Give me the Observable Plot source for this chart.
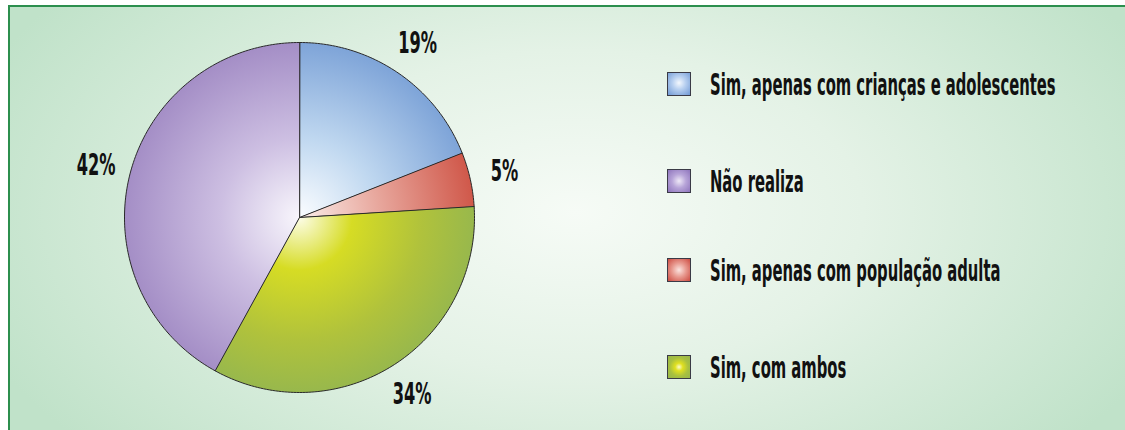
<!DOCTYPE html>
<html><head><meta charset="utf-8">
<script src="https://cdn.jsdelivr.net/npm/d3@7"></script>
<script src="https://cdn.jsdelivr.net/npm/@observablehq/plot@0.6"></script>
<style>
html,body{margin:0;padding:0;width:1125px;height:430px;overflow:hidden;background:#ffffff;}
#frame{position:absolute;left:8px;top:5px;width:1140px;height:450px;border:2px solid #2c8f4e;
  background:radial-gradient(ellipse 640px 360px at 565px 205px,#f6fbf6 0%,#e4f2e6 45%,#c0e2c9 100%);}
#chart{position:absolute;left:0;top:0;}
#legend{position:absolute;left:0;top:0;width:1125px;height:430px;pointer-events:none;}
.item{position:absolute;left:667px;height:24px;display:flex;align-items:center;}
.sw{width:22px;height:22px;border:1px solid #3a3a46;box-sizing:content-box;flex:none;}
.lab{margin-left:19px;font-family:"DejaVu Sans Condensed","Liberation Sans",sans-serif;
  font-weight:bold;font-size:31px;color:#111;white-space:nowrap;transform-origin:left center;display:inline-block;}
</style>
</head><body>
<div id="frame"></div>
<div id="chart"></div>
<div id="legend"></div>
<script>
// ---- data ----
const categories = ["Sim, apenas com crianças e adolescentes", "Sim, apenas com população adulta", "Sim, com ambos", "Não realiza"];
const values = [19, 5, 34, 42];
const legendOrder = ["Sim, apenas com crianças e adolescentes", "Não realiza", "Sim, apenas com população adulta", "Sim, com ambos"];
const labels = ["19%", "5%", "34%", "42%"];
// ---- styles ----
const gradStops = {
  "Sim, apenas com crianças e adolescentes": [["0%", "#fbfdff"], ["45%", "#c0d8f0"], ["100%", "#7ea4d8"]],
  "Sim, apenas com população adulta": [["0%", "#fbeeea"], ["45%", "#e8a89e"], ["100%", "#d0584a"]],
  "Sim, com ambos": [["0%", "#fdfde8"], ["30%", "#d6dc24"], ["70%", "#b0c23c"], ["100%", "#98b84c"]],
  "Não realiza": [["0%", "#f8f6fc"], ["45%", "#cdbfe2"], ["100%", "#a48ec6"]]
};
const legendCss = {
  "Sim, apenas com crianças e adolescentes": "radial-gradient(circle at 50% 45%, #f4f8fd 0%, #b8d0f0 40%, #6f98d4 100%)",
  "Não realiza": "radial-gradient(circle at 50% 50%, #eee8f6 0%, #b7a4d8 45%, #8e74bc 100%)",
  "Sim, apenas com população adulta": "radial-gradient(circle at 50% 50%, #fbe4e0 0%, #e89a90 45%, #cc4a40 100%)",
  "Sim, com ambos": "radial-gradient(circle at 50% 50%, #fbfbd0 0%, #e0e020 25%, #a8c040 60%, #98b64a 100%)"
};
const legendTops = [72, 169, 258, 355];
const textSqueeze = 0.53;
const labelSqueeze = 0.6;

// ---- pie geometry via d3.pie ----
const pie = d3.pie().sort(null).value(d => d.value);
const arcs = pie(categories.map((c, i) => ({key: c, value: values[i], label: labels[i]})));
const pts = [];
arcs.forEach((a, i) => {
  const n = Math.max(8, Math.ceil((a.endAngle - a.startAngle) / (Math.PI / 180)));
  pts.push({key: a.data.key, i, x: 0, y: 0});
  for (let k = 0; k <= n; k++) {
    const t = a.startAngle + (a.endAngle - a.startAngle) * k / n;
    pts.push({key: a.data.key, i, x: Math.sin(t), y: Math.cos(t)});
  }
});
const labelData = arcs.map((a, i) => {
  const m = (a.startAngle + a.endAngle) / 2;
  return {label: a.data.label, x: Math.sin(m) * 1.2, y: Math.cos(m) * 1.2};
});

const plot = Plot.plot({
  width: 1125, height: 430,
  margin: 0,
  style: {background: "transparent", overflow: "visible"},
  x: {domain: [-1, 1], range: [124, 474], axis: null},
  y: {domain: [-1, 1], range: [392, 42], axis: null},
  color: {type: "identity"},
  marks: [
    Plot.line(pts, {x: "x", y: "y", z: "key", curve: "linear-closed",
      fill: d => `url(#g${d.i})`, stroke: "#2a2a2a", strokeWidth: 1}),
    Plot.text(labelData, {x: "x", y: "y", text: "label", fontSize: 30, fontWeight: "bold",
      fontFamily: "'DejaVu Sans Condensed','Liberation Sans',sans-serif",
      fill: "#111", textAnchor: "middle", lineAnchor: "middle", className: "pct"})
  ]
});

// gradient definitions in pixel space from the scales
const sx = plot.scale("x"), sy = plot.scale("y");
const cx = sx.apply(0), cy = sy.apply(0), r = sx.apply(1) - sx.apply(0);
const NS = "http://www.w3.org/2000/svg";
const defs = document.createElementNS(NS, "defs");
arcs.forEach((a, i) => {
  const g = document.createElementNS(NS, "radialGradient");
  g.setAttribute("id", "g" + i);
  g.setAttribute("gradientUnits", "userSpaceOnUse");
  g.setAttribute("cx", cx); g.setAttribute("cy", cy); g.setAttribute("r", r);
  g.setAttribute("fx", cx); g.setAttribute("fy", cy);
  gradStops[a.data.key].forEach(([o, c]) => {
    const s = document.createElementNS(NS, "stop");
    s.setAttribute("offset", o); s.setAttribute("stop-color", c);
    g.appendChild(s);
  });
  defs.appendChild(g);
});
plot.insertBefore(defs, plot.firstChild);
document.getElementById("chart").appendChild(plot);

// condense label text (keeps Plot's positioning)
plot.querySelectorAll(".pct text").forEach(t => {
  const w = t.getComputedTextLength();
  t.setAttribute("textLength", (w * labelSqueeze).toFixed(1));
  t.setAttribute("lengthAdjust", "spacingAndGlyphs");
});

// legend
const leg = document.getElementById("legend");
legendOrder.forEach((k, i) => {
  const it = document.createElement("div");
  it.className = "item";
  it.style.top = legendTops[i] + "px";
  const sw = document.createElement("div");
  sw.className = "sw";
  sw.style.background = legendCss[k];
  const lab = document.createElement("span");
  lab.className = "lab";
  lab.textContent = k;
  lab.style.transform = `scaleX(${textSqueeze})`;
  it.appendChild(sw); it.appendChild(lab);
  leg.appendChild(it);
});
</script>
</body></html>
